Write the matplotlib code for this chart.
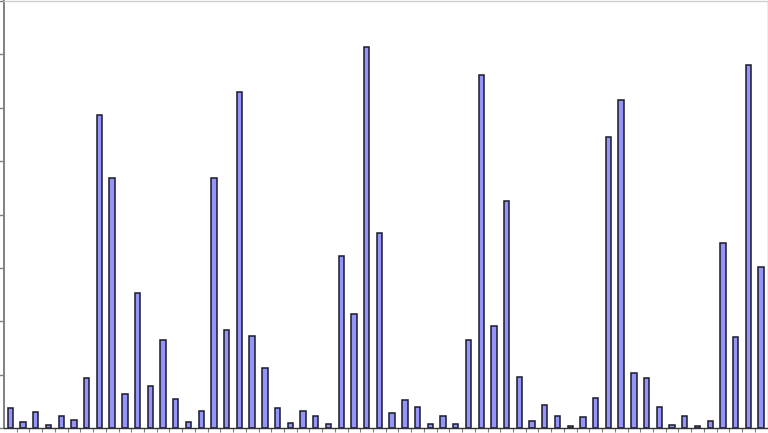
import matplotlib
matplotlib.use("Agg")
import matplotlib.pyplot as plt
import numpy as np

values = [0.37, 0.12, 0.30, 0.06, 0.23, 0.15, 0.93, 5.87, 4.68, 0.64,
          2.53, 0.79, 1.64, 0.55, 0.12, 0.32, 4.68, 1.83, 6.29, 1.73,
          1.12, 0.37, 0.09, 0.32, 0.22, 0.07, 3.23, 2.14, 7.13, 3.65,
          0.29, 0.52, 0.40, 0.07, 0.22, 0.07, 1.64, 6.62, 1.91, 4.26,
          0.96, 0.14, 0.43, 0.23, 0.04, 0.21, 0.56, 5.46, 6.14, 1.03,
          0.93, 0.40, 0.06, 0.23, 0.04, 0.14, 3.46, 1.70, 6.81, 3.02]
y_ticks = [0, 1, 2, 3, 4, 5, 6, 7, 8]

W, H = 768, 433
fig = plt.figure(figsize=(W / 100, H / 100), dpi=100)
ax = fig.add_axes([4 / W, 5 / H, (767.5 - 4) / W, (428 - 1) / H])

x = np.arange(len(values))
ax.bar(x, values, width=0.42, color="#9494fa", edgecolor="#1a1a2a", linewidth=1.1)

ax.set_xlim(-0.5, len(values) - 0.5)
ax.set_ylim(0, 8)
ax.set_yticks(y_ticks)
ax.set_yticklabels([])
ax.set_xticks(np.arange(len(values) - 1) + 0.5)
ax.set_xticklabels([])
ax.tick_params(axis="y", direction="out", length=4, width=1, color="#808080")
ax.tick_params(axis="x", direction="out", length=3, width=0.8, color="#808080")

ax.spines["left"].set_color("#808080")
ax.spines["left"].set_linewidth(1.4)
ax.spines["bottom"].set_color("#333333")
ax.spines["bottom"].set_linewidth(1.0)
ax.spines["top"].set_color("#d0d0d0")
ax.spines["top"].set_linewidth(1.0)
ax.spines["right"].set_color("#a0a0a0")
ax.spines["right"].set_linewidth(1.0)

fig.savefig("out.png", dpi=100)
